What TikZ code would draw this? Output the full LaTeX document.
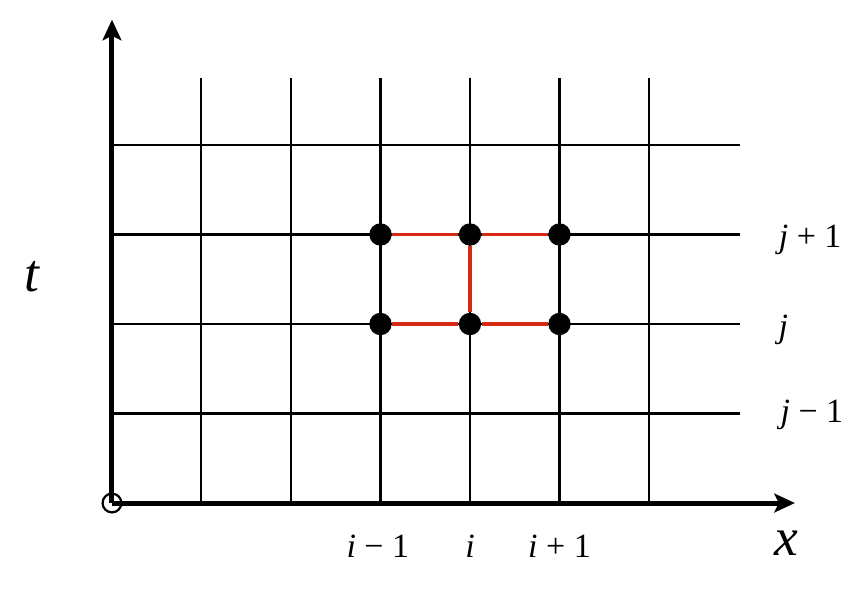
\documentclass[tikz,border=0pt]{standalone}
\usepackage{fontspec}
\setmainfont{Liberation Serif}
\usepackage{xcolor}
\usetikzlibrary{positioning,arrows.meta}
\definecolor{rojo}{RGB}{214,40,18}

\begin{document}
\begin{tikzpicture}[
  punto/.style={circle, fill=black, inner sep=0pt, minimum size=0.25cm},
  rejilla/.style={line width=0.65pt},
  eje/.style={line width=1.6pt, -{Stealth[length=2.3mm, width=2.1mm, inset=0.5mm]}},
  enlace/.style={draw=rojo, line width=1.2pt},
  etiq/.style={font=\fontsize{10.8}{12}\selectfont, inner sep=0pt},
  grande/.style={font=\fontsize{17}{19}\selectfont\itshape, inner sep=0pt}
]
\useasboundingbox (-1.251,-1.106) rectangle (8.447,5.620);

% rejilla
\foreach \c in {1,...,6} \draw[rejilla] (\c,0) -- (\c,4.75);
\foreach \f in {1,...,4} \draw[rejilla] (0,\f) -- (7.02,\f);

% ejes
\coordinate (O) at (0,0);
\coordinate (tfin) at (0,5.40);
\coordinate (xfin) at (7.63,0);
\draw[eje] (O) -- (tfin);
\draw[eje] (O) -- (xfin);
\node[draw, circle, line width=0.7pt, minimum size=0.21cm, inner sep=0pt] (origen) at (O) {};

% nodos de la plantilla
\node[punto] (a1) at (3,3) {};
\node[punto] (b1) at (4,3) {};
\node[punto] (c1) at (5,3) {};
\node[punto] (a0) at (3,2) {};
\node[punto] (b0) at (4,2) {};
\node[punto] (c0) at (5,2) {};

\draw[enlace] (a1) -- (b1) -- (c1);
\draw[enlace] (a0) -- (b0) -- (c0);
\draw[enlace] (b1) -- (b0);

% etiquetas
\node[etiq] (jmas)   at (7.80,2.94) {\textit{j} + 1};
\node[etiq] (jcero)  at (7.50,1.94) {\textit{j}};
\node[etiq] (jmenos) at (7.82,0.99) {\textit{j} − 1};
\node[etiq] (imenos) at (2.97,-0.48) {\textit{i} − 1};
\node[etiq] (icero)  at (4.00,-0.48) {\textit{i}};
\node[etiq] (imas)   at (5.00,-0.48) {\textit{i} + 1};
\node[grande] (tlab) at (-0.894,2.53) {t};
\node[grande] (xlab) at (7.54,-0.45) {x};
\end{tikzpicture}
\end{document}
